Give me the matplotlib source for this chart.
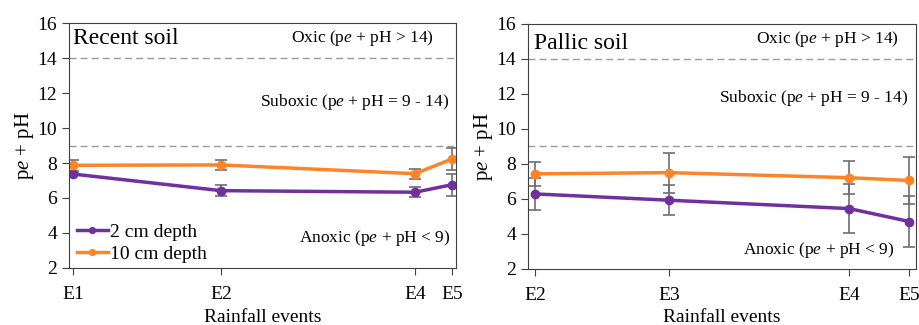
import numpy as np
import matplotlib.pyplot as plt

plt.rcParams['font.family'] = ['Liberation Serif', 'DejaVu Serif']
plt.rcParams['mathtext.fontset'] = 'custom'
plt.rcParams['mathtext.rm'] = 'Liberation Serif'
plt.rcParams['mathtext.it'] = 'Liberation Serif:italic'

# recent soil
recent_events = ['E1', 'E2', 'E4', 'E5']
recent_x = [0, 4, 9.25, 10.25]
recent_2cm = [7.37, 6.42, 6.33, 6.76]
recent_2cm_err = [0.05, 0.3, 0.3, 0.64]
recent_10cm = [7.87, 7.89, 7.39, 8.23]
recent_10cm_err = [0.3, 0.3, 0.28, 0.62]

# pallic soil
pallic_events = ['E2', 'E3', 'E4', 'E5']
pallic_x = [0, 2.24, 5.24, 6.24]
pallic_2cm = [6.27, 5.91, 5.43, 4.69]
pallic_2cm_err = [0.9, 0.85, 1.4, 1.45]
pallic_10cm = [7.42, 7.49, 7.2, 7.04]
pallic_10cm_err = [0.7, 1.15, 0.95, 1.35]

purple = '#7030A0'
orange = '#FF8427'
err_col = '#6E6E6E'
pe = r'p$e$ + pH'


def draw_panel(ax, x, events, y2, e2, y10, e10, title, xlim, title_pos, oxic_pos, sub_pos, anox_pos):
    ax.axhline(14, color='#9A9A9A', ls=(0, (5, 3)), lw=1)
    ax.axhline(9, color='#9A9A9A', ls=(0, (5, 3)), lw=1)
    ax.errorbar(x, y2, yerr=e2, color=purple, lw=2.5, marker='o', ms=6,
                ecolor=err_col, elinewidth=1.2, capsize=4, capthick=1.2, label='2 cm depth')
    ax.errorbar(x, y10, yerr=e10, color=orange, lw=2.5, marker='o', ms=6,
                ecolor=err_col, elinewidth=1.2, capsize=4, capthick=1.2, label='10 cm depth')
    ax.set_xlim(xlim)
    ax.set_ylim(2, 16)
    ax.set_yticks(np.arange(2, 17, 2))
    ax.set_xticks(x)
    ax.set_xticklabels(events)
    ax.tick_params(labelsize=14, direction='out', length=5, color='#404040')
    ax.tick_params(axis='x', pad=8)
    for s in ax.spines.values():
        s.set_color('#404040')
    ax.set_xlabel('Rainfall events', fontsize=14, labelpad=4)
    ax.set_ylabel(pe, fontsize=15, labelpad=1)
    ax.text(title_pos[0], title_pos[1], title, transform=ax.transAxes, fontsize=17, va='center', ha='left')
    ax.text(oxic_pos[0], oxic_pos[1], r'Oxic (p$e$ + pH > 14)', transform=ax.transAxes,
            fontsize=12.5, va='center', ha='right')
    ax.text(sub_pos[0], sub_pos[1], r'Suboxic (p$e$ + pH = 9 - 14)', transform=ax.transAxes,
            fontsize=12.5, va='center', ha='right')
    ax.text(anox_pos[0], anox_pos[1], r'Anoxic (p$e$ + pH < 9)', transform=ax.transAxes,
            fontsize=12.5, va='center', ha='right')


fig = plt.figure(figsize=(9.19, 3.25), dpi=100)
ax1 = fig.add_axes([0.0751, 0.1754, 0.4211, 0.7538])
ax2 = fig.add_axes([0.5745, 0.1738, 0.4222, 0.7524])

draw_panel(ax1, recent_x, recent_events, recent_2cm, recent_2cm_err, recent_10cm, recent_10cm_err,
           'Recent soil', (-0.108, 10.358), (0.01, 0.935), (0.943, 0.939), (0.982, 0.678), (0.986, 0.124))
draw_panel(ax2, pallic_x, pallic_events, pallic_2cm, pallic_2cm_err, pallic_10cm, pallic_10cm_err,
           'Pallic soil', (-0.12, 6.35), (0.015, 0.922), (0.957, 0.937), (0.98, 0.696), (0.946, 0.076))

h, l = ax1.get_legend_handles_labels()
h = [hh[0] for hh in h]
leg = ax1.legend(h, l, loc='lower left', bbox_to_anchor=(-0.025, -0.05), frameon=False, fontsize=14,
                 handlelength=1.6, handletextpad=0.1, labelspacing=0.2, markerscale=0.7)

fig.savefig('out.png', dpi=100)
